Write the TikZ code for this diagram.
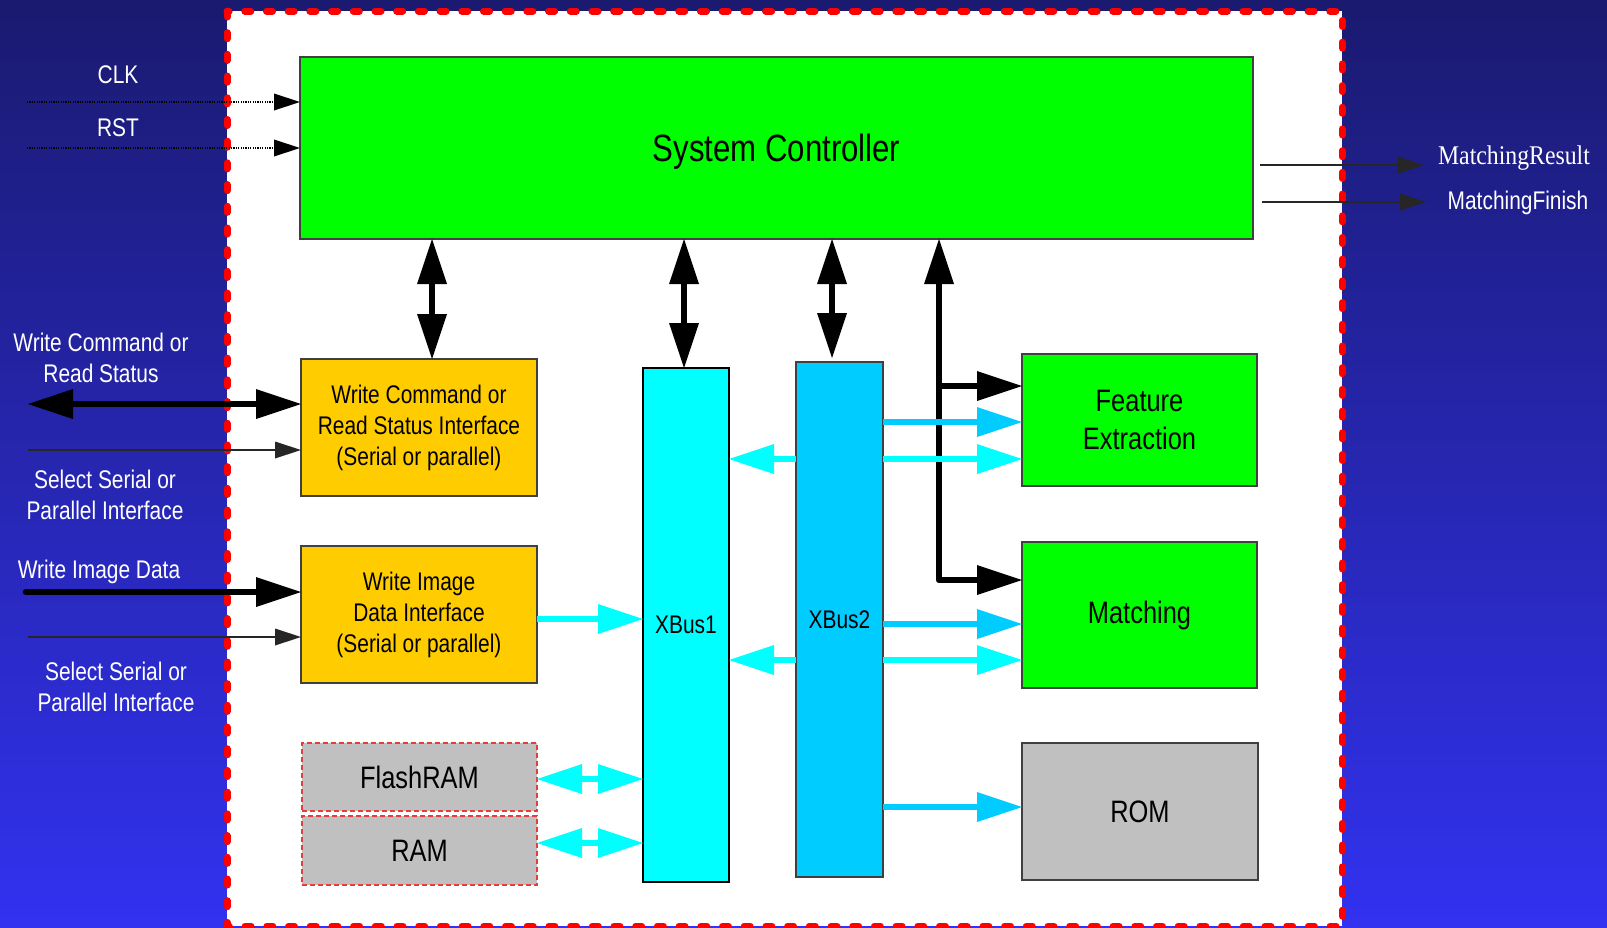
\documentclass[tikz,border=0pt]{standalone}
\usepackage{fontspec}
\setmainfont{Liberation Sans}
\newfontfamily\nar[FakeStretch=0.82]{Liberation Sans}
\newfontfamily\tms[FakeStretch=0.88]{Liberation Serif}
\usetikzlibrary{arrows.meta,calc}
\definecolor{bgtop}{RGB}{26,26,112}
\definecolor{bgbot}{RGB}{50,50,240}
\definecolor{scgreen}{RGB}{0,255,0}
\definecolor{ifyellow}{RGB}{255,204,0}
\definecolor{memgray}{RGB}{192,192,192}
\definecolor{cyA}{RGB}{0,255,255}
\definecolor{cyB}{RGB}{0,204,255}
\definecolor{edgegray}{RGB}{64,64,64}
\definecolor{dashred}{RGB}{230,60,60}
\tikzset{
  bigtip/.tip={Triangle[length=45pt,width=30pt,line width=0pt]},
  smalltip/.tip={Triangle[length=26pt,width=17pt,line width=0pt]},
  box/.style={draw=edgegray, line width=1.5pt, inner sep=0pt, outer sep=0pt,
    anchor=north west, align=center, text=black},
  smalltext/.style={font=\nar\fontsize{25.5}{31}\selectfont},
  bigtext/.style={font=\nar\fontsize{31}{38}\selectfont},
  lbl/.style={text=white, align=center, inner sep=0pt, font=\nar\fontsize{25.5}{30.5}\selectfont},
  memdash/.style={draw=dashred, dash pattern=on 5pt off 3pt},
  blk/.style={draw=black, line width=6.5pt, line join=round},
  thinln/.style={draw=black!85, line width=1.3pt},
  dotln/.style={draw=black, line width=1.2pt, dash pattern=on 1.2pt off 1.2pt},
  cyaA/.style={draw=cyA, fill=cyA, line width=6.5pt},
  cyaB/.style={draw=cyB, fill=cyB, line width=6.5pt},
}
\begin{document}
\begin{tikzpicture}[x=1pt,y=-1pt]
\useasboundingbox (0,0) rectangle (1607,927);
% background
\shade[top color=bgtop, bottom color=bgbot] (0,0) rectangle (1607,927);
\fill[white] (227,11) rectangle (1342,926);
\draw[red, line width=7pt, dash pattern=on 6pt off 15.7pt, line cap=round] (227,11) rectangle (1342,926);

% blocks
\node[box, fill=scgreen, minimum width=953pt, minimum height=182pt, text depth=0pt,
      font=\nar\fontsize{38}{44}\selectfont] (sc) at (300,57) {System Controller};
\node[box, fill=ifyellow, minimum width=236pt, minimum height=137pt, smalltext] (y1) at (301,359)
  {Write Command or\\Read Status Interface\\(Serial or parallel)};
\node[box, fill=ifyellow, minimum width=236pt, minimum height=137pt, smalltext] (y2) at (301,546)
  {Write Image\\Data Interface\\(Serial or parallel)};
\node[box, memdash, fill=memgray, minimum width=235pt, minimum height=68pt, bigtext, text depth=0pt] (flash) at (302,743) {FlashRAM};
\node[box, memdash, fill=memgray, minimum width=235pt, minimum height=69pt, bigtext, text depth=0pt] (ram) at (302,816) {RAM};
\node[box, draw=black, fill=cyA, minimum width=86pt, minimum height=514pt, smalltext] (xb1) at (643,368) {XBus1};
\node[box, draw=edgegray, fill=cyB, minimum width=87pt, minimum height=515pt, smalltext] (xb2) at (796,362) {XBus2};
\node[box, fill=scgreen, minimum width=235pt, minimum height=132pt, bigtext] (fe) at (1022,354) {Feature\\Extraction};
\node[box, fill=scgreen, minimum width=235pt, minimum height=146pt, bigtext] (match) at (1022,542) {Matching};
\node[box, fill=memgray, minimum width=236pt, minimum height=137pt, bigtext, text depth=0pt] (rom) at (1022,743) {ROM};

% outside labels
\node[lbl] (clk) at (118,75) {CLK};
\node[lbl] (rst) at (118,128) {RST};
\node[lbl] (wcrs) at (101,358) {Write Command or\\Read Status};
\node[lbl] (sel1) at (105,495) {Select Serial or\\Parallel Interface};
\node[lbl] (wid) at (99,572) {Write Image Data};
\node[lbl] (sel2) at (116,687) {Select Serial or\\Parallel Interface};
\node[lbl, font=\tms\fontsize{27}{32}\selectfont] (mres) at (1514,158) {MatchingResult};
\node[lbl] (mfin) at (1518,203) {MatchingFinish};

% left inputs
\coordinate (clkS) at (27,102);
\coordinate (rstS) at (27,148);
\coordinate (wcS) at (28,404);
\coordinate (s1S) at (28,450);
\coordinate (wiS) at (26,592);
\coordinate (s2S) at (28,637);
\draw[dotln, -{smalltip}] (clkS) -- (sc.west |- clkS);
\draw[dotln, -{smalltip}] (rstS) -- (sc.west |- rstS);
\draw[blk, {bigtip}-{bigtip}] (wcS) -- (y1.west |- wcS);
\draw[thinln, -{smalltip}] (s1S) -- (y1.west |- s1S);
\draw[blk, line cap=round, -{bigtip}] (wiS) -- (y2.west |- wiS);
\draw[thinln, -{smalltip}] (s2S) -- (y2.west |- s2S);

% right outputs
\coordinate (mrS) at (1260,165); \coordinate (mrE) at (1424,165);
\coordinate (mfS) at (1262,202); \coordinate (mfE) at (1426,202);
\draw[thinln, -{smalltip}] (mrS) -- (mrE);
\draw[thinln, -{smalltip}] (mfS) -- (mfE);

% controller links
\coordinate (a1) at (432,0);
\coordinate (a2) at (684,0);
\coordinate (a3) at (832,0);
\coordinate (j1) at (939,386);
\coordinate (j2) at (939,580);
\draw[blk, {bigtip}-{bigtip}] (sc.south -| a1) -- (y1.north -| a1);
\draw[blk, {bigtip}-{bigtip}] (sc.south -| a2) -- (xb1.north -| a2);
\draw[blk, {bigtip}-{bigtip}] (sc.south -| a3) -- ($(xb2.north -| a3)+(0,-4)$);
\draw[blk, {bigtip}-{bigtip}] (sc.south -| j1) -- (j2) -- (match.west |- j2);
\draw[blk, -{bigtip}] (j1) -- (fe.west |- j1);

% bus links
\coordinate (c1) at (0,422);
\coordinate (c2) at (0,459);
\coordinate (c3) at (0,624);
\coordinate (c4) at (0,660);
\coordinate (c5) at (0,807);
\coordinate (c6) at (0,619);
\coordinate (c7) at (0,779);
\coordinate (c8) at (0,843);
\draw[cyaB, -{bigtip}] (xb2.east |- c1) -- (fe.west |- c1);
\draw[cyaA, -{bigtip}] (xb2.east |- c2) -- (fe.west |- c2);
\draw[cyaA, -{bigtip}] (xb2.west |- c2) -- (xb1.east |- c2);
\draw[cyaB, -{bigtip}] (xb2.east |- c3) -- (match.west |- c3);
\draw[cyaA, -{bigtip}] (xb2.east |- c4) -- (match.west |- c4);
\draw[cyaA, -{bigtip}] (xb2.west |- c4) -- (xb1.east |- c4);
\draw[cyaB, -{bigtip}] (xb2.east |- c5) -- (rom.west |- c5);
\draw[cyaA, -{bigtip}] (y2.east |- c6) -- (xb1.west |- c6);
\draw[cyaA, {bigtip}-{bigtip}] (flash.east |- c7) -- (xb1.west |- c7);
\draw[cyaA, {bigtip}-{bigtip}] (ram.east |- c8) -- (xb1.west |- c8);
\end{tikzpicture}
\end{document}
